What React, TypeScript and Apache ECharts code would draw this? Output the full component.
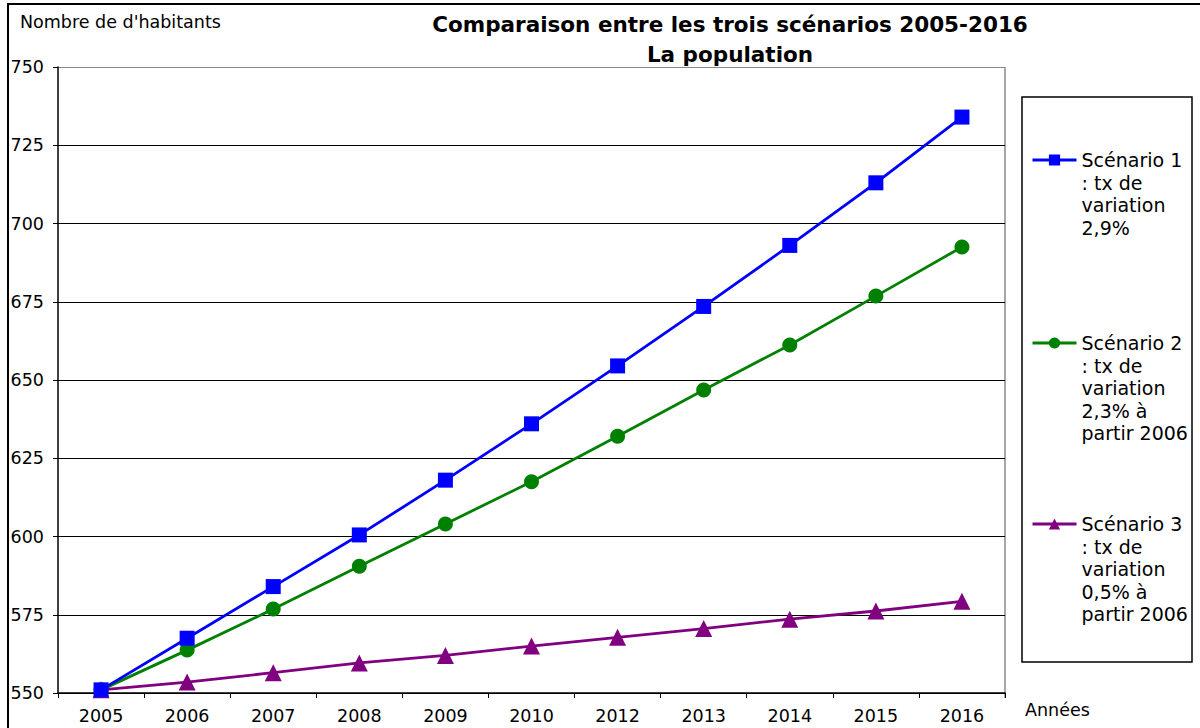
import React, { useEffect, useRef } from "react";
import * as echarts from "echarts";

const years = ["2005", "2006", "2007", "2008", "2009", "2010", "2012", "2013", "2014", "2015", "2016"];
const scenario1 = [551, 567.5, 584, 600.5, 618, 636, 654.5, 673.5, 693, 713, 734];
const scenario2 = [551, 563.7, 576.8, 590.5, 604, 617.5, 632, 646.8, 661.2, 676.8, 692.5];
const scenario3 = [551, 553.5, 556.5, 559.6, 562, 565, 567.8, 570.6, 573.6, 576.2, 579.3];
const yTicks = { min: 550, max: 750, interval: 25 };
const names = [
  "Scénario 1\n: tx de\nvariation\n2,9%",
  "Scénario 2\n: tx de\nvariation\n2,3% à\npartir 2006",
  "Scénario 3\n: tx de\nvariation\n0,5% à\npartir 2006",
];
const colors = ["#0000FF", "#008000", "#800080"];

const FONT = "DejaVu Sans";

export default function App() {
  const ref = useRef<HTMLDivElement>(null);
  useEffect(() => {
    const chart = echarts.init(ref.current!, null, { renderer: "svg" });
    const LH = 22.5;
    const iconCenters = [160, 343, 524];
    chart.setOption({
      animation: false,
      backgroundColor: "#fff",
      textStyle: { fontFamily: FONT },
      title: {
        text: "Comparaison entre les trois scénarios 2005-2016\nLa population",
        left: 725,
        textAlign: "center",
        top: 4,
        textStyle: { fontFamily: FONT, fontSize: 21.5, fontWeight: "bold", color: "#000", lineHeight: 30 },
      },
      legend: names.map((n, i) => {
        const nLines = n.split("\n").length;
        const blanks = nLines - 1;
        const total = nLines + blanks;
        return {
          data: [n],
          orient: "vertical",
          left: 1026,
          top: iconCenters[i] - (total * LH) / 2 - 5,
          itemWidth: 44,
          itemHeight: 14,
          selectedMode: false,
          formatter: (name: string) => "\n".repeat(blanks) + name,
          lineStyle: { width: 3 },
          textStyle: {
            fontFamily: FONT,
            fontSize: 19,
            color: "#000",
            lineHeight: LH,
          },
        };
      }),
      grid: { left: 58, right: 195, top: 67, bottom: 35, containLabel: false },
      xAxis: {
        type: "category",
        data: years,
        boundaryGap: true,
        axisLine: { lineStyle: { color: "#000", width: 1.5 } },
        axisTick: { show: true, length: 5, lineStyle: { color: "#000" } },
        axisLabel: { fontFamily: FONT, fontSize: 17.5, color: "#000", margin: 14 },
      },
      yAxis: {
        type: "value",
        min: yTicks.min,
        max: yTicks.max,
        interval: yTicks.interval,
        axisLine: { show: true, lineStyle: { color: "#000", width: 1.5 } },
        axisTick: { show: true, length: 5, lineStyle: { color: "#000" } },
        axisLabel: { fontFamily: FONT, fontSize: 17.5, color: "#000", margin: 14 },
        splitLine: {
          show: true,
          lineStyle: {
            color: ["#000", "#000", "#000", "#000", "#000", "#000", "#000", "#000", "#888"],
            width: 1.2,
          },
        },
      },
      series: [
        { symbol: "rect", symbolSize: 15, data: scenario1 },
        { symbol: "circle", symbolSize: 15, data: scenario2 },
        { symbol: "triangle", symbolSize: 17, data: scenario3 },
      ].map((s, i) => ({
        ...s,
        type: "line",
        name: names[i],
        color: colors[i],
        lineStyle: { color: colors[i], width: 2.8 },
        itemStyle: { color: colors[i] },
        z: 3 - i + 2,
      })),
      graphic: [
        {
          type: "rect",
          shape: { x: 8, y: 4, width: 1200, height: 740 },
          style: { fill: "none", stroke: "#000", lineWidth: 2 },
          silent: true,
        },
        {
          type: "line",
          shape: { x1: 1005, y1: 67, x2: 1005, y2: 698 },
          style: { stroke: "#888", lineWidth: 1.5 },
          silent: true,
        },
        {
          type: "rect",
          shape: { x: 1022, y: 97, width: 170, height: 565 },
          style: { fill: "none", stroke: "#000", lineWidth: 1.5 },
          silent: true,
        },
        {
          type: "text",
          x: 20,
          y: 22,
          style: { text: "Nombre de d'habitants", font: `17.5px "${FONT}"`, fill: "#000", verticalAlign: "middle" },
        },
        {
          type: "text",
          x: 1025,
          y: 710,
          style: { text: "Années", font: `17.5px "${FONT}"`, fill: "#000", verticalAlign: "middle" },
        },
      ],
    });
    return () => chart.dispose();
  }, []);
  return (
    <div
      ref={ref}
      style={{ position: "absolute", left: 0, top: 0, width: 1200, height: 728 }}
    />
  );
}
